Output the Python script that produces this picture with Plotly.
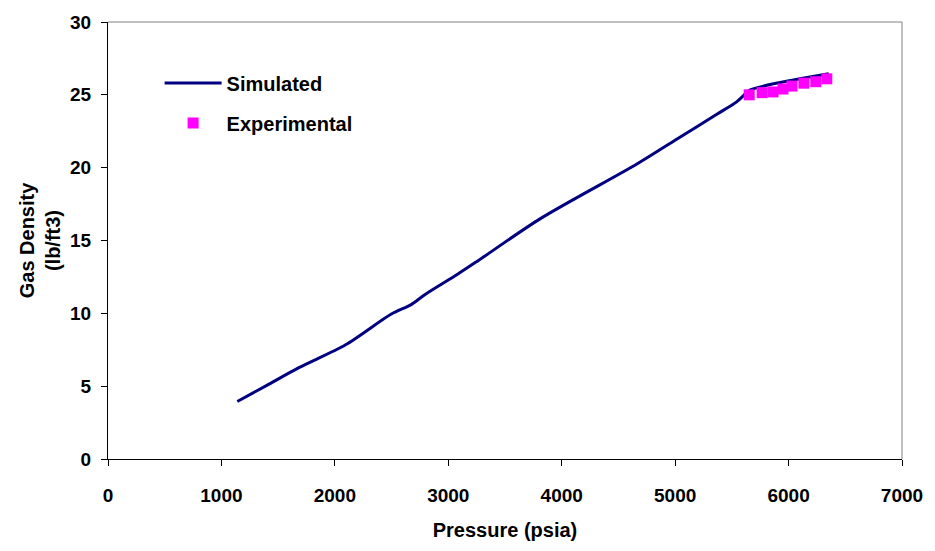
import plotly.graph_objects as go

# Simulated gas density curve
sim_pressure = [1140, 1400, 1683, 2095, 2498, 2673, 2796, 3085, 3260, 3812,
                4663, 5013, 5364, 5539, 5609, 5650, 5890, 6100, 6354]
sim_density = [3.95, 5.05, 6.27, 7.84, 9.95, 10.6, 11.3, 12.7, 13.6, 16.5,
               20.25, 21.95, 23.65, 24.5, 25.0, 25.3, 25.8, 26.1, 26.45]

# Experimental measurements
exp_pressure = [5653, 5767, 5863, 5951, 6030, 6135, 6240, 6337]
exp_density = [25.0, 25.15, 25.2, 25.4, 25.6, 25.8, 25.9, 26.1]

x_ticks = [0, 1000, 2000, 3000, 4000, 5000, 6000, 7000]
y_ticks = [0, 5, 10, 15, 20, 25, 30]

FONT = "Liberation Sans, Arial, sans-serif"

fig = go.Figure()
fig.add_trace(go.Scatter(
    x=sim_pressure, y=sim_density, mode="lines", name="Simulated",
    legendgroup="sim",
    line=dict(color="#000080", width=3, shape="spline", smoothing=0.8),
))
fig.add_trace(go.Scatter(
    x=exp_pressure, y=exp_density, mode="markers", name="Experimental",
    legendgroup="exp",
    marker=dict(color="#FF00FF", symbol="square", size=11, line=dict(width=0)),
))

axis_common = dict(
    showgrid=False, zeroline=False, showline=True, linecolor="black",
    linewidth=1, ticks="outside", ticklen=6, tickcolor="black",
    tickfont=dict(family=FONT, size=19, color="black", weight="bold"),
)

fig.update_layout(
    width=935, height=551,
    margin=dict(l=108, r=27, t=19, b=92),
    paper_bgcolor="white", plot_bgcolor="white",
    font=dict(family=FONT, color="black"),
    xaxis=dict(
        range=[0, 7000], tickvals=x_ticks, ticklabelstandoff=13,
        title=dict(text="<b>Pressure (psia)</b>", standoff=18,
                   font=dict(family=FONT, size=20, color="black")),
        **axis_common,
    ),
    yaxis=dict(
        range=[0, 30], tickvals=y_ticks, ticklabelstandoff=6,
        title=dict(text="<b>Gas Density<br>(lb/ft3)</b>", standoff=4,
                   font=dict(family=FONT, size=20, color="black")),
        **axis_common,
    ),
    legend=dict(
        x=0.065, y=0.905, xanchor="left", yanchor="top",
        bgcolor="rgba(0,0,0,0)", borderwidth=0,
        font=dict(family=FONT, size=20, color="black", weight="bold"),
        tracegroupgap=11, itemwidth=57,
    ),
    showlegend=True,
    shapes=[
        dict(type="line", xref="paper", yref="paper", x0=0, x1=1, y0=1, y1=1,
             line=dict(color="#808080", width=1)),
        dict(type="line", xref="paper", yref="paper", x0=1, x1=1, y0=0, y1=1,
             line=dict(color="#808080", width=1)),
    ],
)

fig.write_html("out.html")
